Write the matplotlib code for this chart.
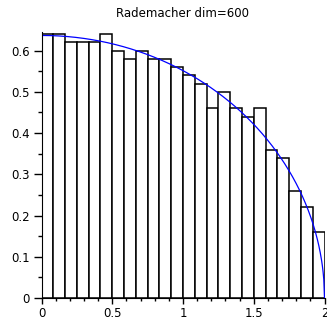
import numpy as np
import matplotlib
matplotlib.use("Agg")
import matplotlib.pyplot as plt
from matplotlib.ticker import MultipleLocator

# histogram of singular values (24 bins over [0, 2]), normalized density
bin_edges = np.linspace(0, 2, 25)
densities = [0.64, 0.64, 0.62, 0.62, 0.62, 0.64, 0.60, 0.58, 0.60, 0.58, 0.58, 0.56,
             0.54, 0.52, 0.46, 0.50, 0.46, 0.44, 0.46, 0.36, 0.34, 0.26, 0.22, 0.16]
title = "Rademacher dim=600"

fig = plt.figure(figsize=(3.27, 3.20), dpi=100)
ax = fig.add_axes([41.5/327, 1 - 298/320, (324.5-41.5)/327, (298-32)/320])

widths = np.diff(bin_edges)
ax.bar(bin_edges[:-1], densities, width=widths, align='edge',
       facecolor='white', edgecolor='black', linewidth=1.1, zorder=1)

# quarter-circle law
xs = np.linspace(0, 2, 400)
ax.plot(xs, np.sqrt(np.clip(4 - xs**2, 0, None)) / np.pi, color='blue', linewidth=0.9, zorder=2)

ax.set_xlim(0, 2)
ax.set_ylim(0, 0.645)
ax.set_title(title, fontsize=8.5, pad=10.5)

for s in ('top', 'right'):
    ax.spines[s].set_visible(False)
ax.spines['left'].set_bounds(0, 0.645)

ax.xaxis.set_major_locator(MultipleLocator(0.5))
ax.xaxis.set_minor_locator(MultipleLocator(0.1))
ax.yaxis.set_major_locator(MultipleLocator(0.1))
ax.yaxis.set_minor_locator(MultipleLocator(0.05))
ax.xaxis.set_major_formatter(plt.FuncFormatter(lambda v, p: f"{v:g}"))
ax.yaxis.set_major_formatter(plt.FuncFormatter(lambda v, p: f"{v:g}"))
ax.tick_params(axis='y', which='major', length=6, width=1, labelsize=8.5, direction='out', pad=2.5)
ax.tick_params(axis='y', which='minor', length=3, width=1, direction='out')
ax.tick_params(axis='x', which='major', length=4, width=1, labelsize=8.5, direction='out', pad=2.5)
ax.tick_params(axis='x', which='minor', length=2.5, width=1, direction='out')

fig.savefig("out.png", dpi=100)
